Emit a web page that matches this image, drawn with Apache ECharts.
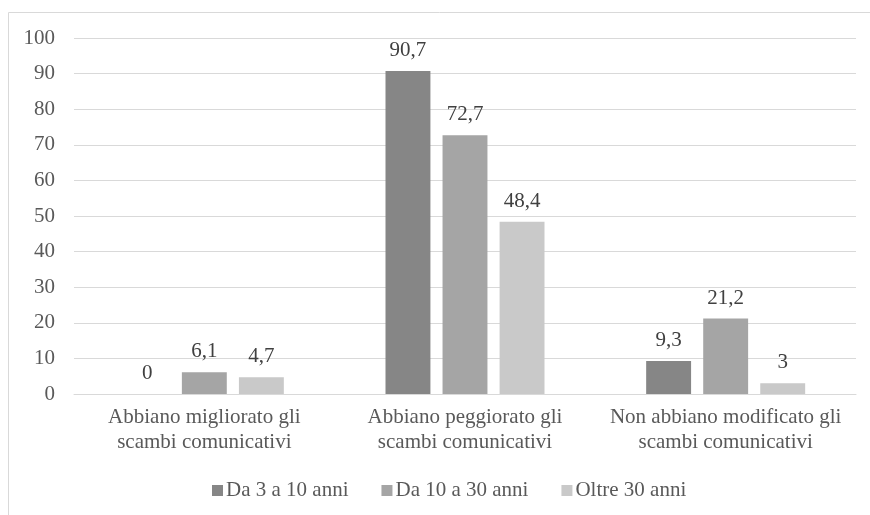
<!DOCTYPE html>
<html>
<head>
<meta charset="utf-8">
<script src="https://cdn.jsdelivr.net/npm/echarts@6/dist/echarts.min.js"></script>
<style>
  html, body { margin: 0; padding: 0; background: #fff; }
  #chart { width: 870px; height: 515px; }
</style>
</head>
<body>
<div id="chart"></div>
<script>
// dati
const categories = [
  'Abbiano migliorato gli\nscambi comunicativi',
  'Abbiano peggiorato gli\nscambi comunicativi',
  'Non abbiano modificato gli\nscambi comunicativi'
]
const seriesNames = ['Da 3 a 10 anni', 'Da 10 a 30 anni', 'Oltre 30 anni']
const da3a10 = [0, 90.7, 9.3]
const da10a30 = [6.1, 72.7, 21.2]
const oltre30 = [4.7, 48.4, 3]
const yTicks = [0, 100, 10] // min, max, passo

const colors = ['#868686', '#a5a5a5', '#c9c9c9']
const font = '"Liberation Serif", "Times New Roman", serif'

const chart = echarts.init(document.getElementById('chart'))

const makeSeries = (name, data, i) => ({
  name: name,
  type: 'bar',
  data: data,
  barGap: '27%',
  barCategoryGap: '39%',
  itemStyle: { color: colors[i] },
  label: {
    show: true,
    position: 'top',
    distance: 10,
    fontFamily: font,
    fontSize: 21,
    color: '#404040',
    formatter: p => String(p.value).replace('.', ',')
  }
})

chart.setOption({
  animation: false,
  textStyle: { fontFamily: font },
  graphic: [{
    type: 'rect',
    shape: { x: 8.5, y: 12.5, width: 900, height: 600 },
    style: { fill: 'none', stroke: '#d9d9d9', lineWidth: 1 },
    silent: true
  }],
  grid: { left: 74, right: 14, top: 38, bottom: 121 },
  legend: {
    bottom: 9,
    left: 207,
    itemWidth: 11,
    itemHeight: 11,
    itemGap: 33,
    icon: 'rect',
    textStyle: { fontFamily: font, fontSize: 21, color: '#595959', padding: [0, 0, 0, -2] },
    data: seriesNames
  },
  xAxis: {
    type: 'category',
    data: categories,
    axisLine: { lineStyle: { color: '#d9d9d9' } },
    axisTick: { show: false },
    axisLabel: {
      fontFamily: font,
      fontSize: 21,
      color: '#595959',
      lineHeight: 25,
      margin: 11,
      interval: 0
    }
  },
  yAxis: {
    type: 'value',
    min: yTicks[0],
    max: yTicks[1],
    interval: yTicks[2],
    axisLine: { show: false },
    axisTick: { show: false },
    splitLine: { lineStyle: { color: '#d9d9d9' } },
    axisLabel: { fontFamily: font, fontSize: 21, color: '#595959', margin: 19 }
  },
  series: [
    makeSeries(seriesNames[0], da3a10, 0),
    makeSeries(seriesNames[1], da10a30, 1),
    makeSeries(seriesNames[2], oltre30, 2)
  ]
})
</script>
</body>
</html>
